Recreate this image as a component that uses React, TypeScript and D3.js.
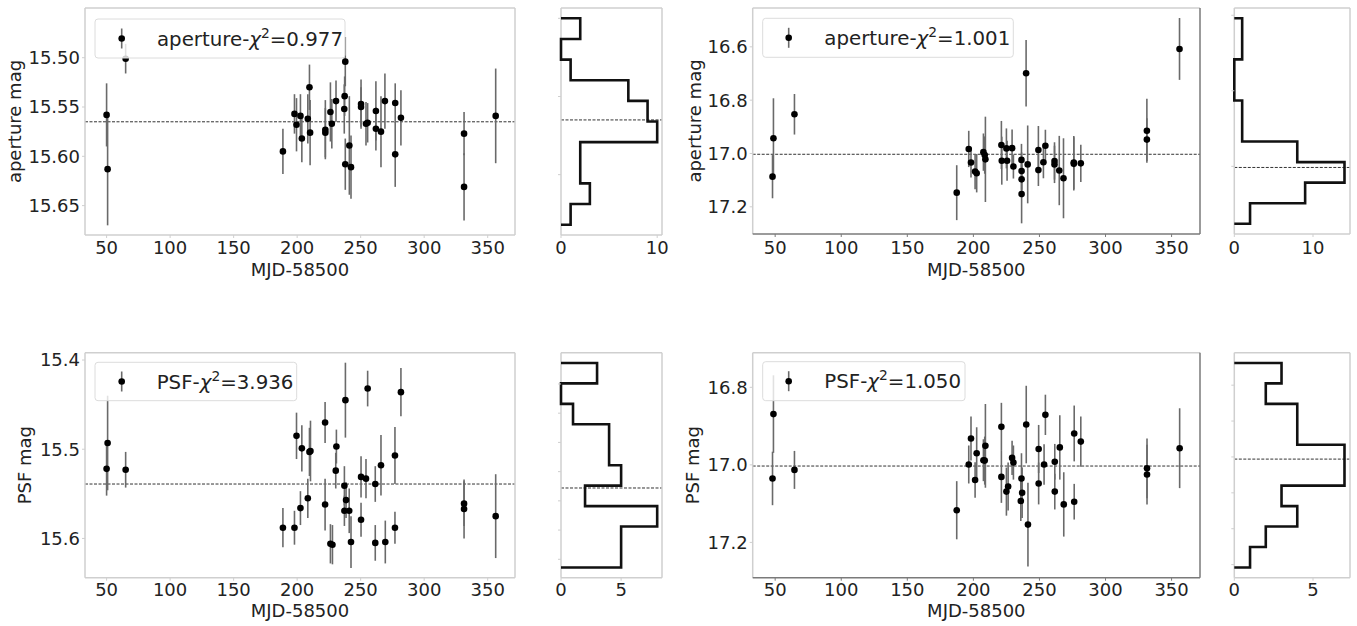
import React from 'react';
import * as d3 from 'd3';

// ---------- data ----------
const xTicks = [50, 100, 150, 200, 250, 300, 350];
const mjdDomain = [33, 371.5];

// top-left: aperture, chi2 = 0.977
const apA_mjd = [50, 50.8, 65, 188.8, 197.9, 199.5, 202.6, 203.7, 208.4, 209.7, 210.2, 222.2, 222.2, 226.2, 227.3, 230.6, 237.1, 237.4, 237.9, 237.9, 241.1, 242.4, 250.3, 250.3, 254.2, 255.5, 262, 262, 266, 269.1, 277.2, 277.2, 281.7, 331.4, 331.4, 356.3];
const apA_mag = [15.558, 15.613, 15.501, 15.595, 15.557, 15.568, 15.559, 15.582, 15.562, 15.530, 15.576, 15.573, 15.576, 15.555, 15.567, 15.544, 15.552, 15.539, 15.504, 15.608, 15.589, 15.611, 15.547, 15.550, 15.567, 15.566, 15.554, 15.572, 15.575, 15.544, 15.546, 15.598, 15.561, 15.577, 15.631, 15.559];
const apA_err = [0.032, 0.057, 0.015, 0.023, 0.02, 0.027, 0.022, 0.024, 0.025, 0.023, 0.033, 0.03, 0.025, 0.03, 0.025, 0.021, 0.025, 0.02, 0.025, 0.026, 0.05, 0.032, 0.025, 0.02, 0.022, 0.02, 0.03, 0.022, 0.036, 0.028, 0.02, 0.033, 0.028, 0.022, 0.034, 0.048];

// top-right: aperture, chi2 = 1.001
const apB_mjd = [48.7, 48, 64.6, 187.4, 196.5, 198.2, 201.3, 202.5, 207.6, 208.6, 209.1, 221.2, 221.5, 225, 225.5, 229.3, 230.3, 236.4, 236.5, 236.5, 236.5, 239.9, 241.1, 249.2, 249.2, 253, 254.5, 261.4, 261.4, 265, 268.2, 276, 276, 281.3, 331.3, 331.3, 356];
const apB_mag = [16.943, 17.087, 16.853, 17.147, 16.983, 17.034, 17.068, 17.074, 16.995, 17.006, 17.022, 16.968, 17.027, 16.981, 17.027, 16.98, 17.049, 17.024, 17.066, 17.097, 17.152, 16.699, 17.041, 16.987, 17.062, 17.033, 16.971, 17.028, 17.041, 17.064, 17.093, 17.034, 17.039, 17.037, 16.915, 16.948, 16.608];
const apB_err = [0.15, 0.081, 0.076, 0.103, 0.068, 0.056, 0.066, 0.072, 0.07, 0.07, 0.16, 0.09, 0.09, 0.075, 0.075, 0.07, 0.045, 0.06, 0.07, 0.07, 0.11, 0.125, 0.146, 0.09, 0.06, 0.06, 0.06, 0.07, 0.07, 0.13, 0.15, 0.1, 0.1, 0.07, 0.12, 0.08, 0.116];

// bottom-left: PSF, chi2 = 3.936
const psfA_mjd = [50, 50.8, 65, 188.8, 197.9, 199.5, 202.6, 203.7, 208.4, 209.7, 210.5, 222, 222, 226.2, 227.8, 230.4, 230.9, 237.2, 237.2, 238.5, 238, 241, 242.4, 250.3, 250.3, 254.2, 255.5, 261.5, 261.5, 266, 269.4, 277, 277, 281.7, 331.4, 331.4, 356.3];
const psfA_mag = [15.522, 15.493, 15.523, 15.588, 15.588, 15.485, 15.566, 15.499, 15.555, 15.503, 15.502, 15.470, 15.562, 15.606, 15.607, 15.524, 15.497, 15.541, 15.569, 15.557, 15.445, 15.569, 15.604, 15.531, 15.579, 15.533, 15.432, 15.539, 15.605, 15.518, 15.604, 15.507, 15.588, 15.436, 15.561, 15.567, 15.575];
const psfA_err = [0.03, 0.053, 0.02, 0.022, 0.019, 0.026, 0.019, 0.026, 0.022, 0.027, 0.034, 0.023, 0.029, 0.022, 0.022, 0.02, 0.019, 0.022, 0.017, 0.02, 0.042, 0.025, 0.029, 0.023, 0.019, 0.022, 0.02, 0.02, 0.02, 0.034, 0.024, 0.032, 0.018, 0.027, 0.025, 0.033, 0.047];

// bottom-right: PSF, chi2 = 1.050
const psfB_mjd = [48.7, 48, 64.6, 187.4, 196.5, 198.2, 201.3, 202.5, 207.6, 208.6, 209.1, 221.2, 221.2, 225, 226.3, 229.3, 230.3, 236.4, 236.9, 235.9, 240, 241.3, 249.4, 249.4, 253.5, 254.5, 261.6, 261.6, 265.4, 268.4, 276.3, 276.3, 281.3, 331.4, 331.4, 356.1];
const psfB_mag = [16.869, 17.035, 17.013, 17.117, 16.999, 16.932, 17.039, 16.970, 16.988, 16.989, 16.951, 16.902, 17.031, 17.069, 17.056, 16.982, 16.994, 17.035, 17.072, 17.093, 16.896, 17.154, 16.959, 17.048, 16.999, 16.871, 16.992, 17.069, 16.955, 17.102, 16.919, 17.095, 16.940, 17.009, 17.025, 16.957];
const psfB_err = [0.10, 0.069, 0.049, 0.075, 0.049, 0.057, 0.046, 0.067, 0.054, 0.062, 0.108, 0.062, 0.067, 0.062, 0.062, 0.044, 0.044, 0.065, 0.065, 0.052, 0.10, 0.108, 0.062, 0.054, 0.052, 0.052, 0.046, 0.046, 0.083, 0.083, 0.072, 0.046, 0.065, 0.077, 0.077, 0.103];

// weighted means (dashed lines)
const meanMags = [15.565, 17.003, 15.539, 17.003];
const chi2Labels = ['0.977', '1.001', '3.936', '1.050'];
const labelPrefixes = ['aperture-', 'aperture-', 'PSF-', 'PSF-'];
const yLabels = ['aperture mag', 'aperture mag', 'PSF mag', 'PSF mag'];

// y axes of the light curves
const yDomains = [[15.4496, 15.6798], [16.4544, 17.302], [15.3918, 15.644], [16.7107, 17.291]];
const yTickValues = [[15.50, 15.55, 15.60, 15.65], [16.6, 16.8, 17.0, 17.2], [15.4, 15.5, 15.6], [16.8, 17.0, 17.2]];
const yTickFormats = ['.2f', '.1f', '.1f', '.1f'];

// histograms (10 bins each, from brightest to faintest)
const histA_counts = [2, 0, 1, 7, 9, 10, 2, 2, 3, 1];
const histB_counts = [1, 1, 0, 0, 1, 1, 8, 14, 9, 2];
const histC_counts = [3, 0, 1, 4, 4, 5, 2, 8, 5, 5];
const histD_counts = [3, 2, 4, 4, 7, 7, 3, 4, 2, 1];
const histRanges = [[15.50, 15.632], [16.608, 17.152], [15.432, 15.607], [16.869, 17.154]];
const histXMax = [10.5, 14.7, 8.4, 7.35];
const histXTicks = [[0, 10], [0, 10], [0, 5], [0, 5]];
const histYTicks = [[15.50, 15.55, 15.60], [16.6, 16.8, 17.0, 17.2], [15.45, 15.475, 15.5, 15.525, 15.55, 15.575, 15.6], [16.9, 16.95, 17.0, 17.05, 17.1, 17.15]];

// ---------- layout (pixels) ----------
const FONT = 'DejaVu Sans, Verdana, sans-serif';
const FS = 18;
const LFS = 19.8;
const layouts = [
  { sx0: 85, sx1: 515, y0: 8, y1: 235, hx0: 561, hx1: 662, tickBase: 254, xlabBase: 276, ylabX: 21, legend: { x: 95, y: 19, w: 250, h: 39, mx: 121.7, tx: 157 }, darkRB: false },
  { sx0: 752.7, sx1: 1200, y0: 8, y1: 234, hx0: 1234.3, hx1: 1350, tickBase: 254, xlabBase: 276, ylabX: 701, legend: { x: 762.7, y: 18.3, w: 250.6, h: 39, mx: 788.7, tx: 824.3 }, darkRB: true },
  { sx0: 85, sx1: 515, y0: 352.7, y1: 577.7, hx0: 561, hx1: 662, tickBase: 596, xlabBase: 617, ylabX: 31, legend: { x: 95, y: 362.3, w: 201.7, h: 38.4, mx: 121.7, tx: 156.7 }, darkRB: false },
  { sx0: 752.7, sx1: 1200, y0: 352.7, y1: 577.7, hx0: 1234.3, hx1: 1350, tickBase: 596, xlabBase: 617, ylabX: 699, legend: { x: 762.7, y: 361.7, w: 202.3, h: 39, mx: 788.7, tx: 824.3 }, darkRB: true },
];

const series = [
  { mjd: apA_mjd, mag: apA_mag, err: apA_err, hist: histA_counts },
  { mjd: apB_mjd, mag: apB_mag, err: apB_err, hist: histB_counts },
  { mjd: psfA_mjd, mag: psfA_mag, err: psfA_err, hist: histC_counts },
  { mjd: psfB_mjd, mag: psfB_mag, err: psfB_err, hist: histD_counts },
];

const LIGHT = '#cfcfcf';
const DARK = '#7a7a7a';

function Frame({ x0, x1, y0, y1, darkRB }: any) {
  return (
    <g>
      <line x1={x0} x2={x1} y1={y0} y2={y0} stroke={LIGHT} strokeWidth={1.5} />
      <line x1={x0} x2={x0} y1={y0} y2={y1} stroke={LIGHT} strokeWidth={1.5} />
      <line x1={x1} x2={x1} y1={y0} y2={y1} stroke={darkRB ? DARK : LIGHT} strokeWidth={1.5} />
      <line x1={x0} x2={x1} y1={y1} y2={y1} stroke={darkRB ? DARK : LIGHT} strokeWidth={1.5} />
    </g>
  );
}

function Panel({ i }: { i: number }) {
  const L = layouts[i];
  const S = series[i];
  const x = d3.scaleLinear().domain(mjdDomain).range([L.sx0, L.sx1]);
  const y = d3.scaleLinear().domain(yDomains[i]).range([L.y0, L.y1]);
  const fmt = d3.format(yTickFormats[i]);
  const pts = S.mjd.map((m, k) => ({ m, v: S.mag[k], e: S.err[k] }));
  const yMid = (L.y0 + L.y1) / 2;

  // histogram
  const [lo, hi] = histRanges[i];
  const R = hi - lo;
  const hy = d3.scaleLinear().domain([lo - 0.05 * R, hi + 0.05 * R]).range([L.y0, L.y1]);
  const hx = d3.scaleLinear().domain([0, histXMax[i]]).range([L.hx0, L.hx1]);
  const n = S.hist.length;
  const edges = d3.range(n + 1).map((k) => lo + (k * R) / n);
  const stepPts: [number, number][] = [[0, edges[0]]];
  S.hist.forEach((c, k) => {
    stepPts.push([c, edges[k]]);
    stepPts.push([c, edges[k + 1]]);
  });
  stepPts.push([0, edges[n]]);
  const stepLine = d3.line<[number, number]>().x((d) => hx(d[0])).y((d) => hy(d[1]));

  const lg = L.legend;
  const lgMidY = lg.y + lg.h / 2;

  return (
    <g fontFamily={FONT} fontSize={FS} fill="#222">
      {/* ---- light curve ---- */}
      <rect x={L.sx0} y={L.y0} width={L.sx1 - L.sx0} height={L.y1 - L.y0} fill="#fff" />
      <line x1={L.sx0} x2={L.sx1} y1={y(meanMags[i])} y2={y(meanMags[i])} stroke="#333" strokeWidth={1} strokeDasharray="3,1.5" />
      {pts.map((p, k) => (
        <line key={'e' + k} x1={x(p.m)} x2={x(p.m)} y1={y(p.v - p.e)} y2={y(p.v + p.e)} stroke="#6a6a6a" strokeWidth={1.6} />
      ))}
      {pts.map((p, k) => (
        <circle key={'c' + k} cx={x(p.m)} cy={y(p.v)} r={3.3} fill="#000" />
      ))}
      <Frame x0={L.sx0} x1={L.sx1} y0={L.y0} y1={L.y1} darkRB={L.darkRB} />
      {xTicks.map((t) => (
        <g key={'xt' + t}>
          <line x1={x(t)} x2={x(t)} y1={L.y1} y2={L.y1 + 3} stroke={L.darkRB ? DARK : LIGHT} />
          <text x={x(t)} y={L.tickBase} textAnchor="middle">{t}</text>
        </g>
      ))}
      {yTickValues[i].map((t) => (
        <g key={'yt' + t}>
          <line x1={L.sx0 - 3} x2={L.sx0} y1={y(t)} y2={y(t)} stroke={LIGHT} />
          <text x={L.sx0 - 5} y={y(t)} dy="0.36em" textAnchor="end">{fmt(t)}</text>
        </g>
      ))}
      <text x={(L.sx0 + L.sx1) / 2} y={L.xlabBase} textAnchor="middle">MJD-58500</text>
      <text transform={`translate(${L.ylabX},${yMid}) rotate(-90)`} textAnchor="middle">{yLabels[i]}</text>

      {/* legend */}
      <rect x={lg.x} y={lg.y} width={lg.w} height={lg.h} rx={3} fill="#fff" fillOpacity={0.8} stroke="#dcdcdc" strokeWidth={1} />
      <line x1={lg.mx} x2={lg.mx} y1={lgMidY - 10} y2={lgMidY + 10} stroke="#6a6a6a" strokeWidth={1.6} />
      <circle cx={lg.mx} cy={lgMidY} r={3.3} fill="#000" />
      <text x={lg.tx} y={lgMidY + 7} fontSize={LFS}>
        {labelPrefixes[i]}
        <tspan fontStyle="italic">χ</tspan>
        <tspan dy={-8} fontSize={13.8}>2</tspan>
        <tspan dy={8}>={chi2Labels[i]}</tspan>
      </text>

      {/* ---- histogram ---- */}
      <rect x={L.hx0} y={L.y0} width={L.hx1 - L.hx0} height={L.y1 - L.y0} fill="#fff" />
      <line x1={L.hx0} x2={L.hx1} y1={hy(meanMags[i])} y2={hy(meanMags[i])} stroke="#333" strokeWidth={1} strokeDasharray="3,1.5" />
      <Frame x0={L.hx0} x1={L.hx1} y0={L.y0} y1={L.y1} darkRB={false} />
      <path d={stepLine(stepPts) || ''} fill="none" stroke="#111" strokeWidth={2.6} strokeLinejoin="miter" />
      {histYTicks[i].filter((t) => hy(t) > L.y0 + 1 && hy(t) < L.y1 - 1).map((t) => (
        <line key={'hyt' + t} x1={L.hx0 - 3} x2={L.hx0} y1={hy(t)} y2={hy(t)} stroke={LIGHT} />
      ))}
      {histXTicks[i].map((t) => (
        <g key={'hxt' + t}>
          <line x1={hx(t)} x2={hx(t)} y1={L.y1} y2={L.y1 + 3} stroke={LIGHT} />
          <text x={hx(t)} y={L.tickBase} textAnchor="middle">{t}</text>
        </g>
      ))}
    </g>
  );
}

export default function App() {
  return (
    <svg width={1357} height={626} style={{ position: 'absolute', left: 0, top: 0, background: '#fff' }}>
      <rect x={0} y={0} width={1357} height={626} fill="#fff" />
      {[0, 1, 2, 3].map((i) => (
        <Panel key={i} i={i} />
      ))}
    </svg>
  );
}
